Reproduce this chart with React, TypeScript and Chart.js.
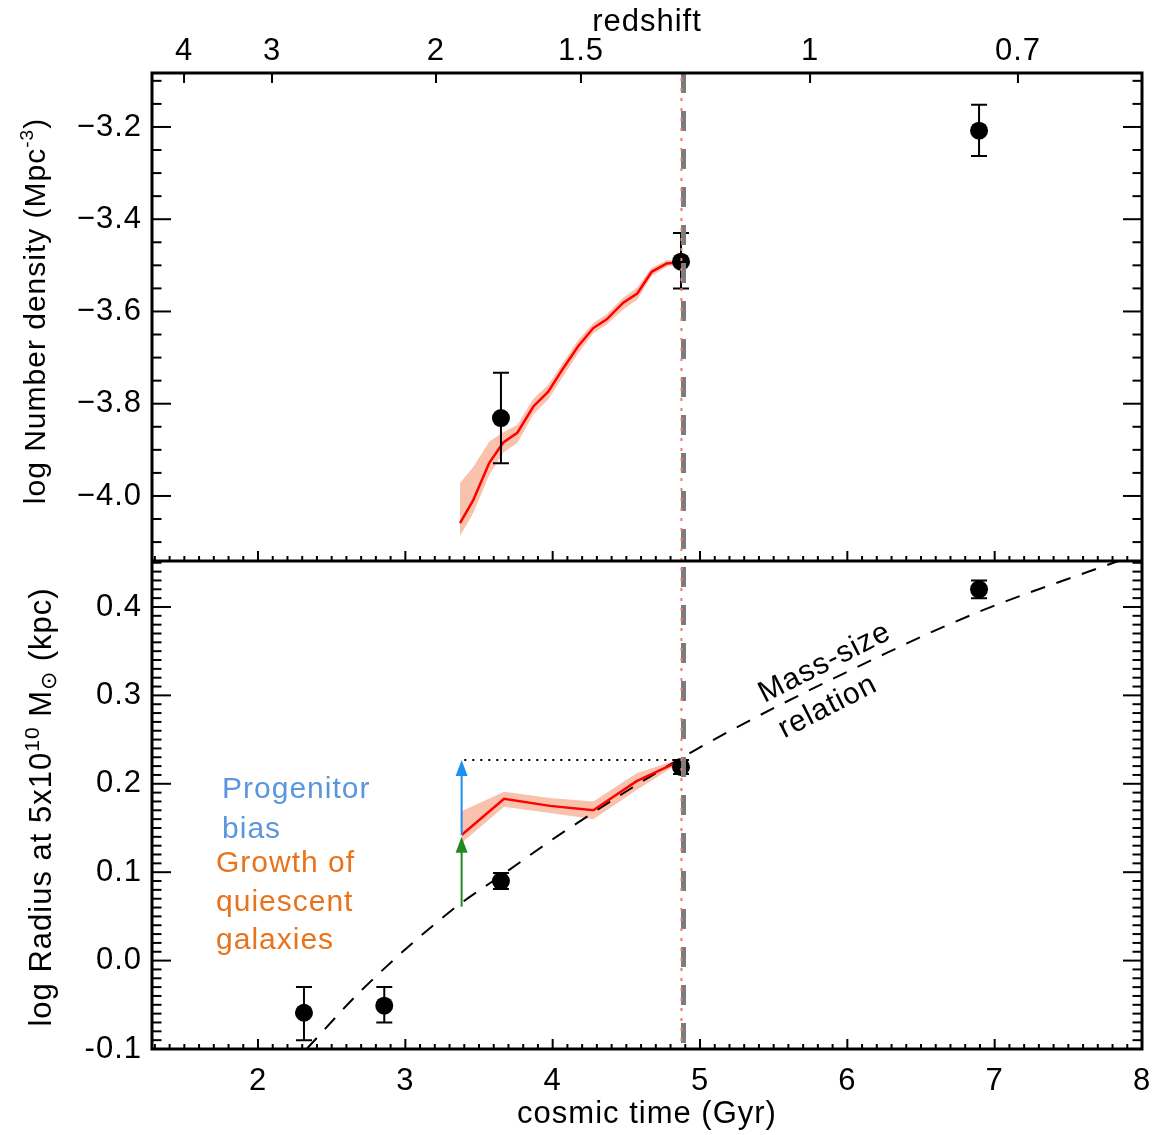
import React, { useEffect, useRef } from 'react';
import { Chart, registerables } from 'chart.js';

Chart.register(...registerables);

// ---------------- axes ----------------
const timeTicks = [2, 3, 4, 5, 6, 7, 8];
const redshiftLabels = ['4', '3', '2', '1.5', '1', '0.7'];
const redshiftTimes = [1.498, 2.095, 3.208, 4.192, 5.747, 7.158];
const densityTicks = [-4.0, -3.8, -3.6, -3.4, -3.2];
const radiusTicks = [-0.1, 0.0, 0.1, 0.2, 0.3, 0.4];

// ---------------- top panel: number density ----------------
const modelDensityTime = [3.371, 3.461, 3.570, 3.665, 3.760, 3.869, 3.970, 4.072, 4.174, 4.276, 4.367, 4.479, 4.574, 4.672, 4.774, 4.842];
const modelDensity = [-4.059, -4.009, -3.928, -3.884, -3.863, -3.806, -3.774, -3.723, -3.675, -3.636, -3.617, -3.581, -3.561, -3.514, -3.496, -3.494];
const modelDensityUpper = [-3.972, -3.937, -3.882, -3.862, -3.846, -3.789, -3.759, -3.710, -3.662, -3.625, -3.606, -3.570, -3.548, -3.505, -3.489, -3.490];
const modelDensityLower = [-4.087, -4.037, -3.954, -3.906, -3.885, -3.823, -3.791, -3.740, -3.690, -3.647, -3.628, -3.596, -3.574, -3.523, -3.503, -3.498];
const obsDensityTime = [3.649, 4.871, 6.894];
const obsDensity = [-3.831, -3.492, -3.208];
const obsDensityErrUp = [0.098, 0.062, 0.056];
const obsDensityErrDown = [0.098, 0.058, 0.055];

// ---------------- bottom panel: radius ----------------
const modelRadiusTime = [3.382, 3.670, 3.982, 4.276, 4.570, 4.864];
const modelRadius = [0.142, 0.183, 0.175, 0.170, 0.203, 0.226];
const modelRadiusUpper = [0.169, 0.191, 0.184, 0.180, 0.212, 0.228];
const modelRadiusLower = [0.133, 0.174, 0.167, 0.160, 0.193, 0.224];
const massSizeTime = [2.330, 2.706, 3.323, 3.649, 4.070, 4.955, 6.267, 6.900, 7.840];
const massSizeRadius = [-0.100, -0.033, 0.058, 0.096, 0.145, 0.237, 0.348, 0.395, 0.452];
const obsRadiusTime = [2.312, 2.857, 3.649, 4.871, 6.894];
const obsRadius = [-0.059, -0.051, 0.090, 0.219, 0.420];
const obsRadiusErrUp = [0.029, 0.021, 0.009, 0.008, 0.010];
const obsRadiusErrDown = [0.031, 0.019, 0.009, 0.008, 0.010];

// ---------------- reference lines / arrows ----------------
const selectionTime = 4.888;
const matchTime = 4.874;
const arrowTime = 3.382;
const growthArrow = [0.061, 0.140];
const biasArrow = [0.142, 0.227];
const biasLineTime = [3.40, 4.87];
const biasLineRadius = 0.227;

const BAND = '#f9c2ad';
const RED = '#ff0000';
const FONT = "'Liberation Sans', Arial, Helvetica, sans-serif";
const SPACING = '1px';

const pts = (xs: number[], ys: number[]) => xs.map((x, i) => ({ x, y: ys[i] }));

const textLabels = [
  { text: 'Progenitor', t: 1.756, v: 0.1842, color: '#5a96dc' },
  { text: 'bias', t: 1.756, v: 0.139, color: '#5a96dc' },
  { text: 'Growth of', t: 1.715, v: 0.1006, color: '#e8731a' },
  { text: 'quiescent', t: 1.715, v: 0.0565, color: '#e8731a' },
  { text: 'galaxies', t: 1.715, v: 0.0136, color: '#e8731a' },
];
const rotatedLabels = [
  { text: 'Mass-size', t: 5.848, v: 0.3367 },
  { text: 'relation', t: 5.868, v: 0.287 },
];

function drawRich(ctx: CanvasRenderingContext2D, bx: number, cy: number, parts: { t: string; s: number; dy?: number }[]) {
  ctx.save();
  ctx.translate(bx, cy);
  ctx.rotate(-Math.PI / 2);
  ctx.textAlign = 'left';
  ctx.textBaseline = 'alphabetic';
  ctx.fillStyle = '#000';
  let total = 0;
  const widths = parts.map((p) => {
    ctx.font = `${p.s}px ${FONT}`;
    const w = ctx.measureText(p.t).width;
    total += w;
    return w;
  });
  let x = -total / 2;
  parts.forEach((p, i) => {
    ctx.font = `${p.s}px ${FONT}`;
    ctx.fillText(p.t, x, p.dy || 0);
    x += widths[i];
  });
  ctx.restore();
}

const decorPlugin = {
  id: 'decor',
  beforeUpdate(chart: any) {
    (chart.ctx as any).letterSpacing = SPACING;
  },
  beforeDraw(chart: any) {
    (chart.ctx as any).letterSpacing = SPACING;
  },
  afterDatasetsDraw(chart: any) {
    const ctx: CanvasRenderingContext2D = chart.ctx;
    const { x, yTop, yBot } = chart.scales;
    const T = chart.chartArea.top;
    const B = chart.chartArea.bottom;
    ctx.save();
    // error bars
    chart.data.datasets.forEach((ds: any) => {
      if (!ds.errUp) return;
      const ys = ds.yAxisID === 'yTop' ? yTop : yBot;
      ds.data.forEach((p: any, i: number) => {
        const px = x.getPixelForValue(p.x);
        const y1 = ys.getPixelForValue(p.y + ds.errUp[i]);
        const y2 = ys.getPixelForValue(p.y - ds.errDown[i]);
        ctx.strokeStyle = '#000';
        ctx.lineWidth = 2;
        ctx.beginPath();
        ctx.moveTo(px, y1); ctx.lineTo(px, y2);
        ctx.moveTo(px - 8, y1); ctx.lineTo(px + 8, y1);
        ctx.moveTo(px - 8, y2); ctx.lineTo(px + 8, y2);
        ctx.stroke();
      });
    });
    // dotted horizontal bias line
    ctx.strokeStyle = '#000';
    ctx.lineWidth = 2;
    ctx.setLineDash([2, 6]);
    ctx.beginPath();
    const hy = yBot.getPixelForValue(biasLineRadius);
    ctx.moveTo(x.getPixelForValue(biasLineTime[0]), hy);
    ctx.lineTo(x.getPixelForValue(biasLineTime[1]), hy);
    ctx.stroke();
    // arrows
    const arrow = (v0: number, v1: number, color: string) => {
      const ax = x.getPixelForValue(arrowTime);
      const p0 = yBot.getPixelForValue(v0);
      const p1 = yBot.getPixelForValue(v1);
      ctx.setLineDash([]);
      ctx.strokeStyle = color;
      ctx.fillStyle = color;
      ctx.lineWidth = 2;
      ctx.beginPath();
      ctx.moveTo(ax, p0); ctx.lineTo(ax, p1 + 12);
      ctx.stroke();
      ctx.beginPath();
      ctx.moveTo(ax, p1); ctx.lineTo(ax - 6, p1 + 16); ctx.lineTo(ax + 6, p1 + 16);
      ctx.closePath();
      ctx.fill();
    };
    arrow(growthArrow[0], growthArrow[1], '#1f8a1f');
    arrow(biasArrow[0], biasArrow[1], '#1e8ff0');
    // vertical grey dashed
    const gx = x.getPixelForValue(selectionTime);
    ctx.strokeStyle = '#7c7c7c';
    ctx.lineWidth = 5;
    ctx.setLineDash([20, 18]);
    ctx.beginPath(); ctx.moveTo(gx, T); ctx.lineTo(gx, B); ctx.stroke();
    // red dotted
    const rx = x.getPixelForValue(matchTime);
    ctx.strokeStyle = '#f47a68';
    ctx.lineWidth = 2;
    ctx.setLineDash([3, 7]);
    ctx.beginPath(); ctx.moveTo(rx, T + 5); ctx.lineTo(rx, B); ctx.stroke();
    ctx.restore();
  },
  afterDraw(chart: any) {
    const ctx: CanvasRenderingContext2D = chart.ctx;
    const { x, yTop, yBot } = chart.scales;
    const L = chart.chartArea.left, R = chart.chartArea.right;
    const T = chart.chartArea.top, B = chart.chartArea.bottom;
    const M = yTop.bottom;
    ctx.save();
    ctx.setLineDash([]);
    ctx.strokeStyle = '#000';
    ctx.lineWidth = 2;
    const seg = (x1: number, y1: number, x2: number, y2: number) => {
      ctx.beginPath(); ctx.moveTo(x1, y1); ctx.lineTo(x2, y2); ctx.stroke();
    };
    for (let k = 13; k <= 80; k++) {
      const px = x.getPixelForValue(k / 10);
      const len = k % 10 === 0 ? 10 : 5;
      seg(px, B, px, B - len);
      seg(px, M, px, M - len);
    }
    redshiftTimes.forEach((t) => {
      const px = x.getPixelForValue(t);
      seg(px, T, px, T + 10);
    });
    for (let k = -82; k <= -62; k++) {
      const v = k * 0.05;
      if (v < yTop.min || v > yTop.max) continue;
      const len = k % 4 === 0 ? 19 : 9.5;
      const py = yTop.getPixelForValue(v);
      seg(L, py, L + len, py);
      seg(R, py, R - len, py);
    }
    for (let k = -9; k <= 45; k++) {
      const v = k / 100;
      const len = k % 10 === 0 ? 19 : 9.5;
      const py = yBot.getPixelForValue(v);
      seg(L, py, L + len, py);
      seg(R, py, R - len, py);
    }
    ctx.lineWidth = 3;
    ctx.strokeRect(L, T, R - L, B - T);
    seg(L, M, R, M);

    // annotation texts
    (ctx as any).letterSpacing = SPACING;
    ctx.textAlign = 'left';
    ctx.textBaseline = 'alphabetic';
    ctx.font = `30px ${FONT}`;
    textLabels.forEach((l) => {
      ctx.fillStyle = l.color;
      ctx.fillText(l.text, x.getPixelForValue(l.t), yBot.getPixelForValue(l.v));
    });
    ctx.fillStyle = '#000';
    ctx.textAlign = 'center';
    ctx.textBaseline = 'middle';
    rotatedLabels.forEach((l) => {
      ctx.save();
      ctx.translate(x.getPixelForValue(l.t), yBot.getPixelForValue(l.v));
      ctx.rotate((-27 * Math.PI) / 180);
      ctx.fillText(l.text, 0, 0);
      ctx.restore();
    });

    // y axis titles
    drawRich(ctx, 45, (yTop.top + yTop.bottom) / 2 - 6, [
      { t: 'log Number density (Mpc', s: 30 },
      { t: '-3', s: 19, dy: -12 },
      { t: ')', s: 30 },
    ]);
    drawRich(ctx, 51, (yBot.top + yBot.bottom) / 2 + 2, [
      { t: 'log Radius at 5x10', s: 31 },
      { t: '10', s: 21, dy: -12 },
      { t: ' M', s: 31 },
      { t: '\u2299', s: 22, dy: 5 },
      { t: ' (kpc)', s: 31 },
    ]);
    ctx.restore();
  },
};

export default function App() {
  const ref = useRef<HTMLCanvasElement>(null);
  useEffect(() => {
    const canvas = ref.current;
    if (!canvas) return;
    Chart.defaults.font.family = FONT;
    Chart.defaults.color = '#000';
    const setTicks = (vals: number[]) => (scale: any) => {
      scale.ticks = vals.map((v) => ({ value: v }));
    };
    const fitH = (h: number) => (s: any) => {
      s.height = h;
      s.paddingLeft = 0;
      s.paddingRight = 0;
    };
    const fitV = (w: number) => (s: any) => {
      s.width = w;
      s.paddingTop = 0;
      s.paddingBottom = 0;
    };
    const chart = new Chart(canvas, {
      type: 'line',
      data: {
        datasets: [
          { data: pts(modelDensityTime, modelDensityUpper), yAxisID: 'yTop', xAxisID: 'x', borderColor: 'transparent', borderWidth: 0, pointRadius: 0, fill: '+1', backgroundColor: BAND, order: 10 } as any,
          { data: pts(modelDensityTime, modelDensityLower), yAxisID: 'yTop', xAxisID: 'x', borderColor: 'transparent', borderWidth: 0, pointRadius: 0, fill: false, order: 10 },
          { data: pts(modelDensityTime, modelDensity), yAxisID: 'yTop', xAxisID: 'x', borderColor: RED, borderWidth: 2.5, pointRadius: 0, fill: false, order: 3 },
          { data: pts(obsDensityTime, obsDensity), yAxisID: 'yTop', xAxisID: 'x', showLine: false, pointRadius: 9, pointBackgroundColor: '#000', pointBorderColor: '#000', pointBorderWidth: 0, order: 1, errUp: obsDensityErrUp, errDown: obsDensityErrDown } as any,
          { data: pts(modelRadiusTime, modelRadiusUpper), yAxisID: 'yBot', xAxisID: 'x', borderColor: 'transparent', borderWidth: 0, pointRadius: 0, fill: '+1', backgroundColor: BAND, order: 10 } as any,
          { data: pts(modelRadiusTime, modelRadiusLower), yAxisID: 'yBot', xAxisID: 'x', borderColor: 'transparent', borderWidth: 0, pointRadius: 0, fill: false, order: 10 },
          { data: pts(modelRadiusTime, modelRadius), yAxisID: 'yBot', xAxisID: 'x', borderColor: RED, borderWidth: 2.5, pointRadius: 0, fill: false, order: 3 },
          { data: pts(massSizeTime, massSizeRadius), yAxisID: 'yBot', xAxisID: 'x', borderColor: '#000', borderWidth: 2, borderDash: [15, 12], pointRadius: 0, fill: false, cubicInterpolationMode: 'monotone', order: 5 },
          { data: pts(obsRadiusTime, obsRadius), yAxisID: 'yBot', xAxisID: 'x', showLine: false, pointRadius: 9, pointBackgroundColor: '#000', pointBorderColor: '#000', pointBorderWidth: 0, order: 1, errUp: obsRadiusErrUp, errDown: obsRadiusErrDown } as any,
        ],
      },
      options: {
        responsive: false,
        animation: false,
        events: [],
        layout: { padding: { left: 0, right: 10, top: 0, bottom: 0 } },
        plugins: { legend: { display: false }, tooltip: { enabled: false }, title: { display: false } },
        scales: {
          x: {
            type: 'linear',
            position: 'bottom',
            min: 1.2805,
            max: 8,
            afterBuildTicks: setTicks(timeTicks),
            afterFit: fitH(86),
            grid: { display: false, drawTicks: false },
            border: { display: false },
            ticks: { font: { size: 31 }, padding: 14, autoSkip: false, maxRotation: 0, callback: (v: any) => String(v) },
            title: { display: true, text: 'cosmic time (Gyr)', font: { size: 31 }, padding: { top: 0, bottom: 2 } },
          },
          x2: {
            type: 'linear',
            position: 'top',
            min: 1.2805,
            max: 8,
            afterBuildTicks: setTicks(redshiftTimes),
            afterFit: fitH(73),
            grid: { display: false, drawTicks: false },
            border: { display: false },
            ticks: { font: { size: 31 }, padding: 3, autoSkip: false, maxRotation: 0, callback: (_v: any, i: number) => redshiftLabels[i] },
            title: { display: true, text: 'redshift', font: { size: 31 }, padding: { top: 4, bottom: 0 } },
          },
          yBot: {
            type: 'linear',
            position: 'left',
            stack: 'panels',
            stackWeight: 1,
            min: -0.1,
            max: 0.452,
            afterBuildTicks: setTicks(radiusTicks),
            afterFit: fitV(152),
            grid: { display: false, drawTicks: false },
            border: { display: false },
            ticks: { font: { size: 31 }, padding: 10, autoSkip: false, callback: (v: any) => Number(v).toFixed(1) },
          },
          yTop: {
            type: 'linear',
            position: 'left',
            stack: 'panels',
            stackWeight: 1,
            min: -4.141,
            max: -3.083,
            afterBuildTicks: setTicks(densityTicks),
            afterFit: fitV(152),
            grid: { display: false, drawTicks: false },
            border: { display: false },
            ticks: { font: { size: 31 }, padding: 10, autoSkip: false, callback: (v: any) => '\u2212' + Math.abs(Number(v)).toFixed(1) },
          },
        } as any,
      },
      plugins: [decorPlugin],
    } as any);
    return () => chart.destroy();
  }, []);
  return (
    <div style={{ position: 'fixed', left: 0, top: 0, width: 1152, height: 1135, background: '#fff' }}>
      <canvas ref={ref} width={1152} height={1135} style={{ display: 'block' }} />
    </div>
  );
}
